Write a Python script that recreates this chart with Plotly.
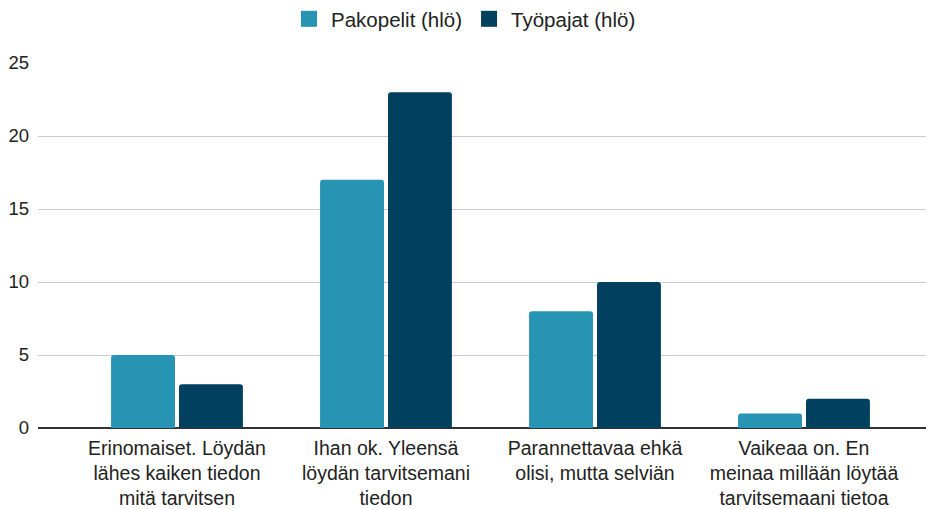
import plotly.graph_objects as go

categories = [
    "Erinomaiset. Löydän<br>lähes kaiken tiedon<br>mitä tarvitsen",
    "Ihan ok. Yleensä<br>löydän tarvitsemani<br>tiedon",
    "Parannettavaa ehkä<br>olisi, mutta selviän",
    "Vaikeaa on. En<br>meinaa millään löytää<br>tarvitsemaani tietoa",
]
series_names = ["Pakopelit (hlö)", "Työpajat (hlö)"]
pakopelit = [5, 17, 8, 1]
tyopajat = [3, 23, 10, 2]
y_ticks = [0, 5, 10, 15, 20, 25]
colors = ["#2794b3", "#01405f"]

font_family = "Liberation Sans, Arial, sans-serif"
text_color = "#222222"

# The HTML page body has an 8px default margin, so the figure is sized to fit.
FIG_W, FIG_H = 926, 501

fig = go.Figure()
for name, vals, col in zip(series_names, [pakopelit, tyopajat], colors):
    fig.add_trace(go.Bar(name=name, x=categories, y=vals, legendgroup=name,
                         showlegend=False,
                         marker=dict(color=col, cornerradius=3, line=dict(width=0))))
    # legend-only entry with a larger square swatch
    fig.add_trace(go.Scatter(name=name, x=[None], y=[None], mode="markers",
                             legendgroup=name, showlegend=True,
                             marker=dict(symbol="square", size=16, color=col)))

fig.update_layout(
    width=FIG_W, height=FIG_H,
    margin=dict(l=30, r=0, t=55, b=81, autoexpand=False),
    paper_bgcolor="white", plot_bgcolor="white",
    barmode="group", bargap=0.35, bargroupgap=0.059,
    font=dict(family=font_family, size=19, color=text_color),
    legend=dict(orientation="h", x=(464 - 8) / FIG_W, xanchor="center", xref="container",
                y=1 - 11 / FIG_H, yanchor="middle", yref="container",
                font=dict(size=20.5, color=text_color), itemsizing="trace",
                itemwidth=34, tracegroupgap=10),
    xaxis=dict(range=[-0.665, 3.622], showgrid=False, showline=False, ticks="",
               automargin=False, ticklabelstandoff=6,
               tickfont=dict(size=19.5, color=text_color), zeroline=False),
    yaxis=dict(range=[0, 25], tickvals=y_ticks, showgrid=True, gridcolor="#cccccc",
               gridwidth=1, zeroline=True, zerolinecolor="#333333", zerolinewidth=1.5,
               automargin=False, ticks="", tickfont=dict(size=18.5, color=text_color),
               ticklabelstandoff=8),
)

fig.write_html("out.html")
